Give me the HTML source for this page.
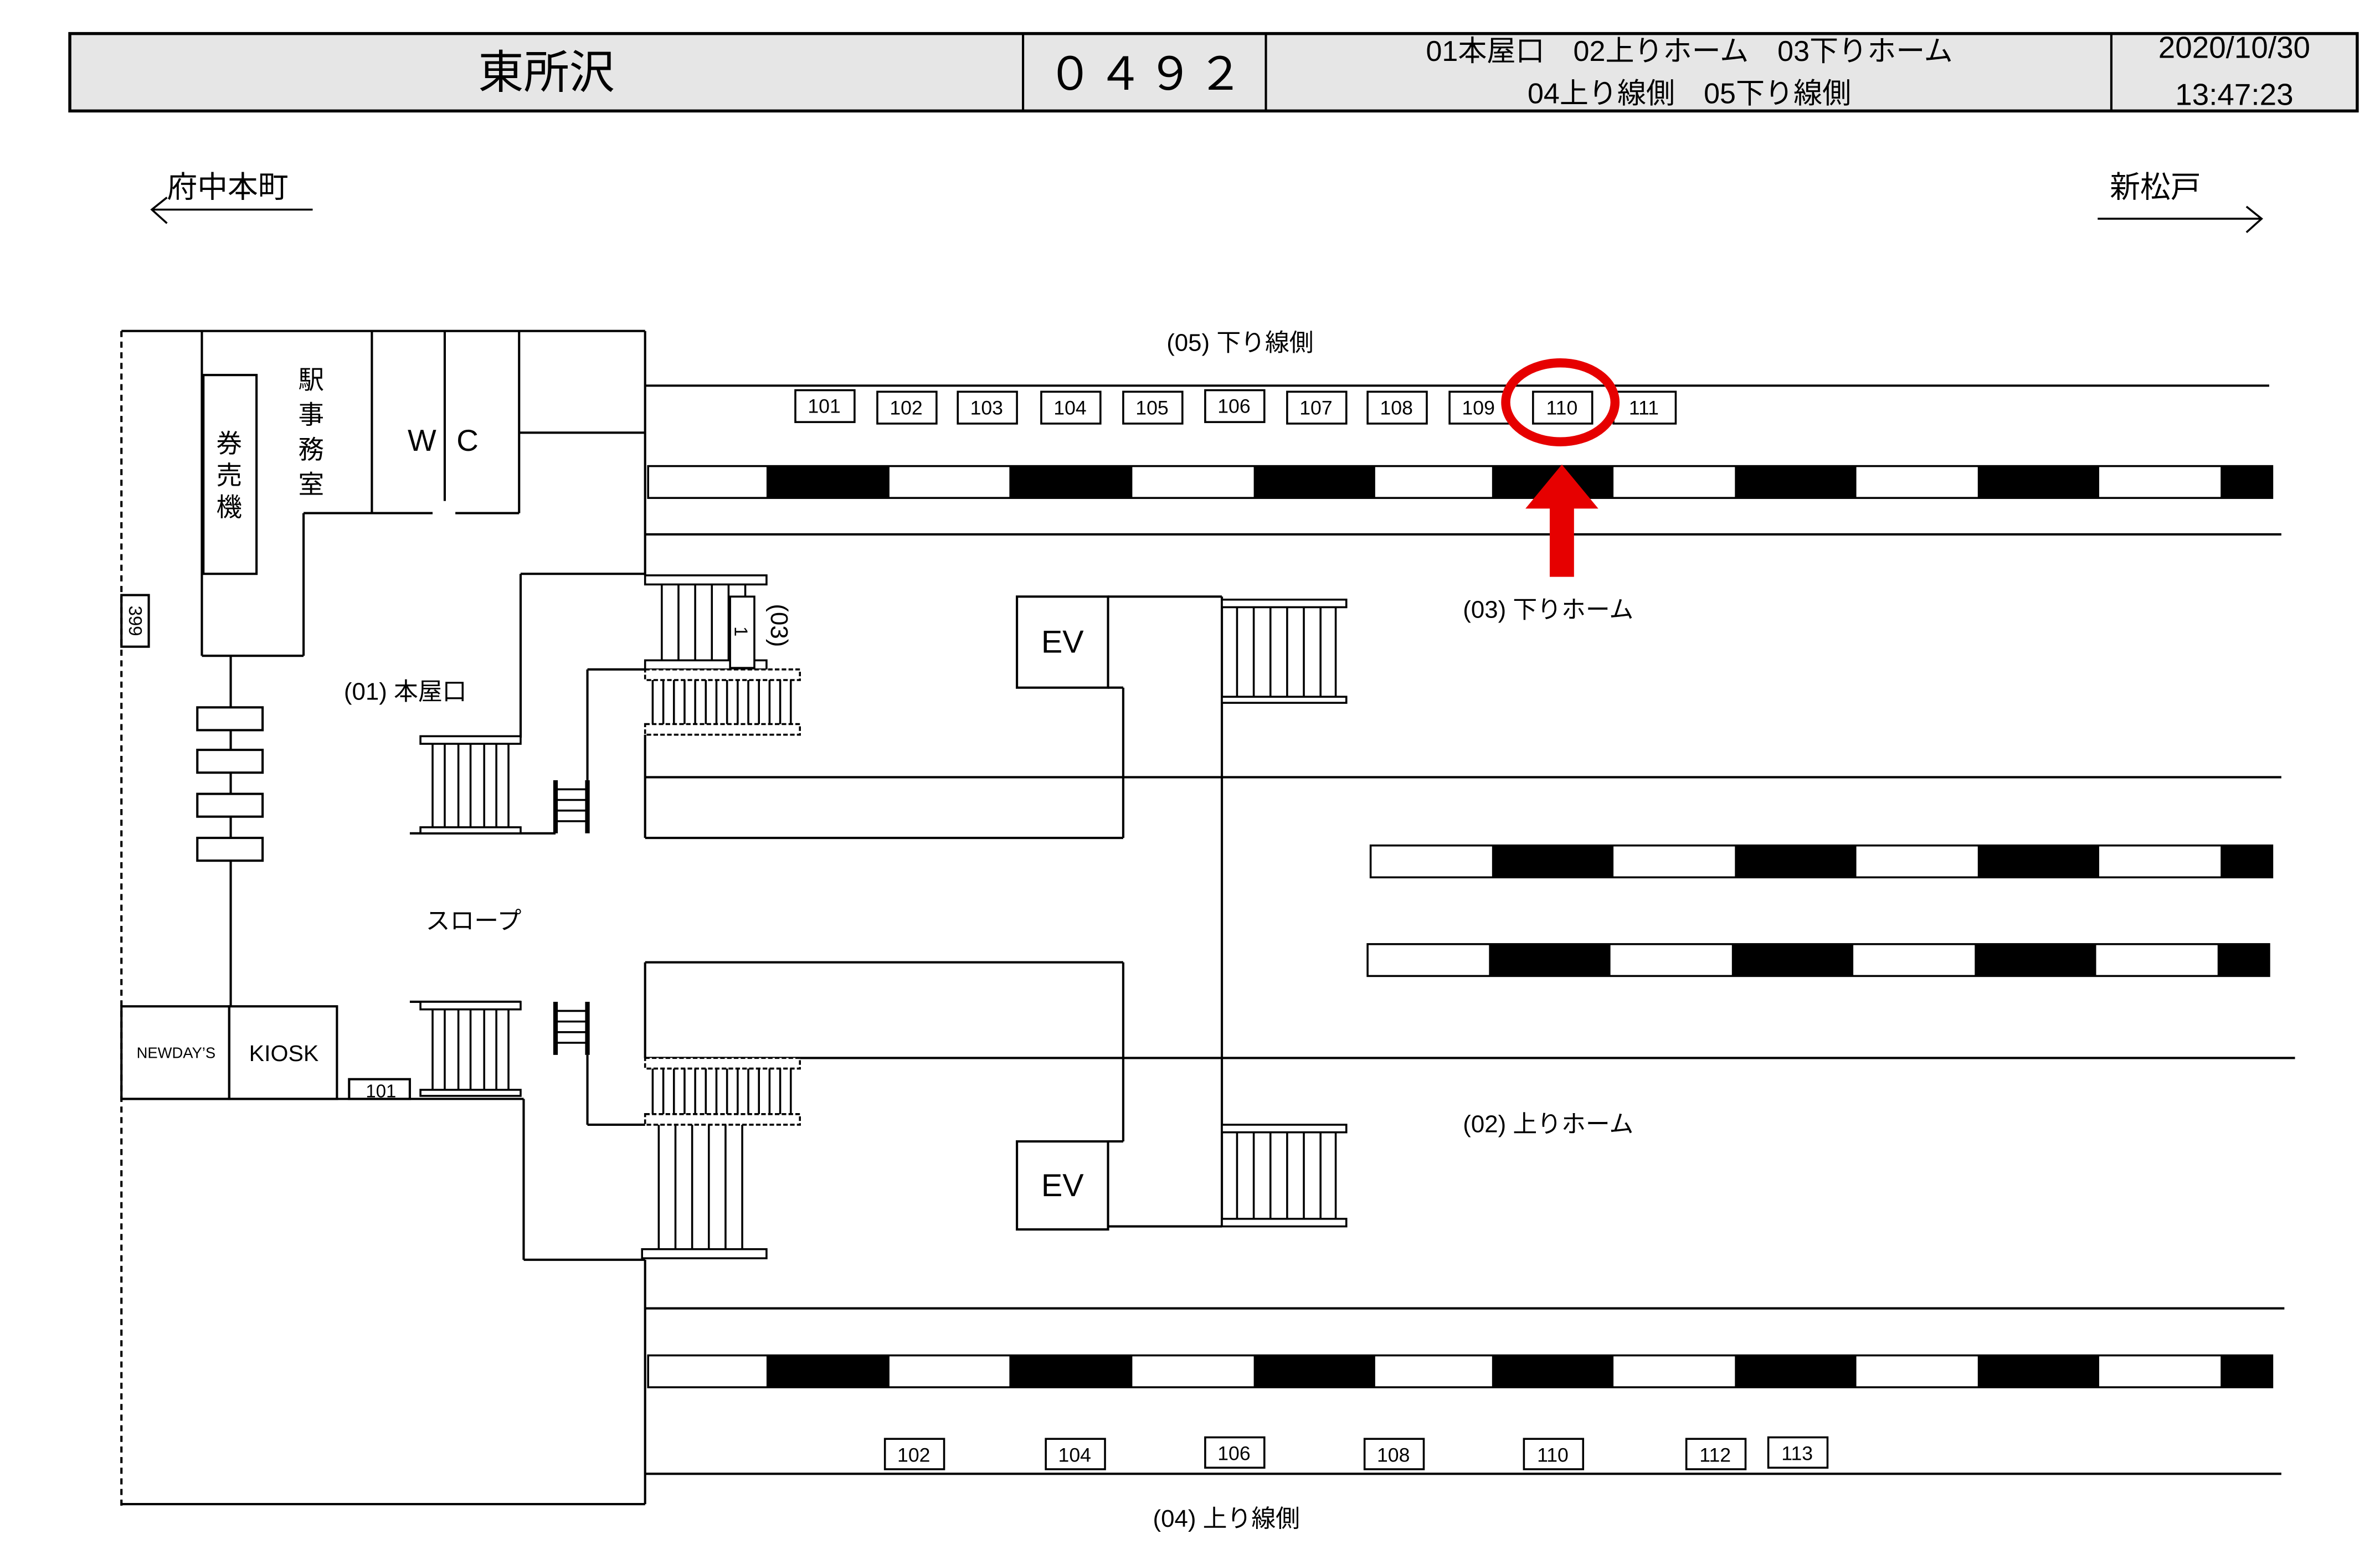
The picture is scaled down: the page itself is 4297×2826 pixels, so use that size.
<!DOCTYPE html>
<html><head><meta charset="utf-8"><style>
html,body{margin:0;padding:0;background:#fff;}
svg{display:block;}
text{font-family:"Liberation Sans","Noto Sans CJK JP",sans-serif;fill:#000;}
</style></head><body>
<svg width="4297" height="2826" viewBox="0 0 1568 1031" xmlns="http://www.w3.org/2000/svg">
<rect width="1568" height="1031" fill="#fff"/>
<!-- header -->
<rect x="46" y="22" width="1507" height="51" fill="#e6e6e6" stroke="#000" stroke-width="2"/>
<line x1="674" y1="22" x2="674" y2="73" stroke="#000" stroke-width="1.5"/>
<line x1="834" y1="22" x2="834" y2="73" stroke="#000" stroke-width="1.5"/>
<line x1="1391" y1="22" x2="1391" y2="73" stroke="#000" stroke-width="1.5"/>
<text x="360" y="58" font-size="30" text-anchor="middle">東所沢</text>
<g font-size="30" text-anchor="middle">
<text x="705" y="59">０</text><text x="738" y="59">４</text><text x="771" y="59">９</text><text x="804" y="59">２</text>
</g>
<text x="1113" y="40" font-size="19" text-anchor="middle">01本屋口　02上りホーム　03下りホーム</text>
<text x="1113" y="68" font-size="19" text-anchor="middle">04上り線側　05下り線側</text>
<text x="1472" y="38" font-size="20" text-anchor="middle">2020/10/30</text>
<text x="1472" y="69" font-size="20" text-anchor="middle">13:47:23</text>
<!-- direction arrows -->
<text x="110" y="130" font-size="20">府中本町</text>
<line x1="100" y1="138" x2="206" y2="138" stroke="#000" stroke-width="1.3"/>
<polyline points="110,130 100,138 110,147" fill="none" stroke="#000" stroke-width="1.3"/>
<text x="1390" y="130" font-size="20">新松戸</text>
<line x1="1382" y1="144" x2="1490" y2="144" stroke="#000" stroke-width="1.3"/>
<polyline points="1480,136 1490,144 1480,153" fill="none" stroke="#000" stroke-width="1.3"/>

<g stroke="#000" stroke-width="1.5" fill="none">
<line x1="80" y1="218" x2="80" y2="992" stroke-dasharray="4,3"/>
<line x1="80" y1="218" x2="425" y2="218"/>
<line x1="425" y1="218" x2="425" y2="379"/>
<line x1="80" y1="991" x2="425" y2="991"/>
<line x1="425" y1="830" x2="425" y2="991"/>
<line x1="133" y1="218" x2="133" y2="432"/>
<rect x="134" y="247" width="35" height="131"/>
<line x1="133" y1="432" x2="200" y2="432"/>
<line x1="200" y1="338" x2="200" y2="432"/>
<line x1="200" y1="338" x2="285" y2="338"/>
<line x1="300" y1="338" x2="342" y2="338"/>
<line x1="245" y1="218" x2="245" y2="338"/>
<line x1="293" y1="218" x2="293" y2="330"/>
<line x1="342" y1="218" x2="342" y2="338"/>
<line x1="342" y1="285" x2="425" y2="285"/>
<line x1="152" y1="432" x2="152" y2="663"/>
<rect x="130" y="466" width="43" height="15" fill="#fff"/>
<rect x="130" y="494" width="43" height="15" fill="#fff"/>
<rect x="130" y="523" width="43" height="15" fill="#fff"/>
<rect x="130" y="552" width="43" height="15" fill="#fff"/>
<rect x="80" y="392" width="18" height="34"/>
<rect x="80" y="663" width="71" height="61"/>
<rect x="151" y="663" width="71" height="61"/>
<line x1="80" y1="724" x2="345" y2="724"/>
<rect x="230" y="711" width="40" height="13"/>
<line x1="345" y1="724" x2="345" y2="830"/>
<line x1="345" y1="830" x2="425" y2="830"/>
<line x1="343" y1="378" x2="425" y2="378"/>
<line x1="343" y1="378" x2="343" y2="486"/>
<line x1="387" y1="441" x2="425" y2="441"/>
<line x1="387" y1="441" x2="387" y2="514"/>
<line x1="270" y1="549" x2="366" y2="549"/>
<line x1="270" y1="660" x2="343" y2="660"/>
<line x1="387" y1="695" x2="387" y2="741"/>
<line x1="387" y1="741" x2="425" y2="741"/>
<line x1="425" y1="484" x2="425" y2="552"/>
<line x1="425" y1="552" x2="740" y2="552"/>
<line x1="425" y1="512" x2="1503" y2="512"/>
<line x1="740" y1="453" x2="740" y2="552"/>
<line x1="730" y1="453" x2="740" y2="453"/>
<rect x="670" y="393" width="60" height="60"/>
<line x1="730" y1="393" x2="805" y2="393"/>
<line x1="805" y1="393" x2="805" y2="808"/>
<line x1="425" y1="634" x2="740" y2="634"/>
<line x1="425" y1="634" x2="425" y2="697"/>
<line x1="740" y1="634" x2="740" y2="752"/>
<line x1="730" y1="752" x2="740" y2="752"/>
<rect x="670" y="752" width="60" height="58"/>
<line x1="730" y1="808" x2="805" y2="808"/>
<line x1="425" y1="697" x2="1512" y2="697"/>
<line x1="425" y1="254" x2="1495" y2="254"/>
<line x1="425" y1="352" x2="1503" y2="352"/>
<line x1="425" y1="862" x2="1505" y2="862"/>
<line x1="425" y1="971" x2="1503" y2="971"/>
</g>

<g stroke="#000" stroke-width="1.3" fill="#fff">
<rect x="277" y="485" width="66" height="5"/>
<rect x="277" y="545" width="66" height="4"/>
<path d="M285 490V545M293 490V545M302 490V545M310 490V545M319 490V545M327 490V545M335 490V545"/>
<rect x="277" y="660" width="66" height="5"/>
<rect x="277" y="718" width="66" height="4"/>
<path d="M285 665V718M293 665V718M302 665V718M310 665V718M319 665V718M327 665V718M335 665V718"/>
<path d="M366 514V549M387 514V549" stroke-width="3"/>
<path d="M366 520H387M366 527H387M366 534H387M366 541H387"/>
<path d="M366 660V695M387 660V695" stroke-width="3"/>
<path d="M366 666H387M366 673H387M366 680H387M366 687H387"/>
<rect x="425" y="379" width="80" height="6"/>
<rect x="425" y="435" width="80" height="6"/>
<path d="M436 385V435M447 385V435M458 385V435M469 385V435M480 385V435M491 385V435"/>
<rect x="481" y="393" width="16" height="47"/>
<rect x="425" y="441" width="102" height="7" stroke-dasharray="3,1.5"/>
<rect x="425" y="477" width="102" height="7" stroke-dasharray="3,1.5"/>
<path d="M430 448V477M437 448V477M444 448V477M451 448V477M458 448V477M465 448V477M472 448V477M479 448V477M486 448V477M493 448V477M500 448V477M507 448V477M514 448V477M521 448V477"/>
<rect x="425" y="697" width="102" height="7" stroke-dasharray="3,1.5"/>
<rect x="425" y="734" width="102" height="7" stroke-dasharray="3,1.5"/>
<path d="M430 704V734M437 704V734M444 704V734M451 704V734M458 704V734M465 704V734M472 704V734M479 704V734M486 704V734M493 704V734M500 704V734M507 704V734M514 704V734M521 704V734"/>
<rect x="423" y="823" width="82" height="6"/>
<path d="M434 741V823M445 741V823M456 741V823M467 741V823M478 741V823M489 741V823"/>
<rect x="805" y="395" width="82" height="5"/>
<rect x="805" y="459" width="82" height="4"/>
<path d="M815 400V459M826 400V459M837 400V459M848 400V459M859 400V459M870 400V459M880 400V459"/>
<rect x="805" y="741" width="82" height="5"/>
<rect x="805" y="803" width="82" height="5"/>
<path d="M815 746V803M826 746V803M837 746V803M848 746V803M859 746V803M870 746V803M880 746V803"/>
</g>

<g stroke="#000" stroke-width="1.3">
<rect x="427" y="307" width="1070" height="21" fill="#fff"/>
<rect x="427" y="893" width="1070" height="21" fill="#fff"/>
<rect x="903" y="557" width="594" height="21" fill="#fff"/>
<rect x="901" y="622" width="594" height="21" fill="#fff"/>
</g>
<g fill="#000">
<rect x="505" y="307" width="81" height="21"/><rect x="665" y="307" width="81" height="21"/><rect x="826" y="307" width="80" height="21"/><rect x="983" y="307" width="80" height="21"/><rect x="1143" y="307" width="80" height="21"/><rect x="1303" y="307" width="80" height="21"/><rect x="1463" y="307" width="34" height="21"/>
<rect x="505" y="893" width="81" height="21"/><rect x="665" y="893" width="81" height="21"/><rect x="826" y="893" width="80" height="21"/><rect x="983" y="893" width="80" height="21"/><rect x="1143" y="893" width="80" height="21"/><rect x="1303" y="893" width="80" height="21"/><rect x="1463" y="893" width="34" height="21"/>
<rect x="983" y="557" width="80" height="21"/><rect x="1143" y="557" width="80" height="21"/><rect x="1303" y="557" width="80" height="21"/><rect x="1463" y="557" width="34" height="21"/>
<rect x="981" y="622" width="80" height="21"/><rect x="1141" y="622" width="80" height="21"/><rect x="1301" y="622" width="80" height="21"/><rect x="1461" y="622" width="34" height="21"/>
</g>

<g stroke="#000" stroke-width="1.3" fill="#fff">
<rect x="524" y="257" width="39" height="21"/><rect x="578" y="258" width="39" height="21"/><rect x="631" y="258" width="39" height="21"/><rect x="686" y="258" width="39" height="21"/><rect x="740" y="258" width="39" height="21"/><rect x="794" y="257" width="39" height="21"/><rect x="848" y="258" width="39" height="21"/><rect x="901" y="258" width="39" height="21"/><rect x="955" y="258" width="39" height="21"/><rect x="1010" y="258" width="39" height="21"/><rect x="1063" y="258" width="41" height="21"/>
<rect x="583" y="948" width="39" height="20"/><rect x="689" y="948" width="39" height="20"/><rect x="794" y="947" width="39" height="20"/><rect x="899" y="948" width="39" height="20"/><rect x="1004" y="948" width="39" height="20"/><rect x="1111" y="948" width="39" height="20"/><rect x="1165" y="947" width="39" height="20"/>
</g>
<g font-size="13" text-anchor="middle">
<text x="543" y="272">101</text><text x="597" y="273">102</text><text x="650" y="273">103</text><text x="705" y="273">104</text><text x="759" y="273">105</text><text x="813" y="272">106</text><text x="867" y="273">107</text><text x="920" y="273">108</text><text x="974" y="273">109</text><text x="1029" y="273">110</text><text x="1083" y="273">111</text>
<text x="602" y="963">102</text><text x="708" y="963">104</text><text x="813" y="962">106</text><text x="918" y="963">108</text><text x="1023" y="963">110</text><text x="1130" y="963">112</text><text x="1184" y="962">113</text>
<text x="251" y="723" font-size="12">101</text>
</g>

<ellipse cx="1028" cy="265" rx="36" ry="26" fill="none" stroke="#e60000" stroke-width="6"/>
<polygon points="1029,306 1053,335 1037,335 1037,380 1021,380 1021,335 1005,335" fill="#e60000"/>

<text x="817" y="231" font-size="16" text-anchor="middle">(05) 下り線側</text>
<text x="1020" y="407" font-size="16" text-anchor="middle">(03) 下りホーム</text>
<text x="1020" y="746" font-size="16" text-anchor="middle">(02) 上りホーム</text>
<text x="808" y="1006" font-size="16" text-anchor="middle">(04) 上り線側</text>
<text x="267" y="461" font-size="16" text-anchor="middle">(01) 本屋口</text>
<text x="312" y="612" font-size="16" text-anchor="middle">スロープ</text>
<text x="700" y="430" font-size="21" text-anchor="middle">EV</text>
<text x="700" y="788" font-size="21" text-anchor="middle">EV</text>
<text x="278" y="297" font-size="20" text-anchor="middle">W</text>
<text x="308" y="297" font-size="20" text-anchor="middle">C</text>
<text x="116" y="697" font-size="10" text-anchor="middle">NEWDAY’S</text>
<text x="187" y="699" font-size="15" text-anchor="middle">KIOSK</text>
<g font-size="17" text-anchor="middle">
<text x="205" y="256">駅</text><text x="205" y="279">事</text><text x="205" y="302">務</text><text x="205" y="325">室</text>
<text x="151" y="298">券</text><text x="151" y="319">売</text><text x="151" y="340">機</text>
</g>
<text transform="translate(85,409) rotate(90)" font-size="12" text-anchor="middle">399</text>
<text transform="translate(484,416) rotate(90)" font-size="12" text-anchor="middle">1</text>
<text transform="translate(508,412) rotate(90)" font-size="16" text-anchor="middle">(03)</text>
</svg>
</body></html>
